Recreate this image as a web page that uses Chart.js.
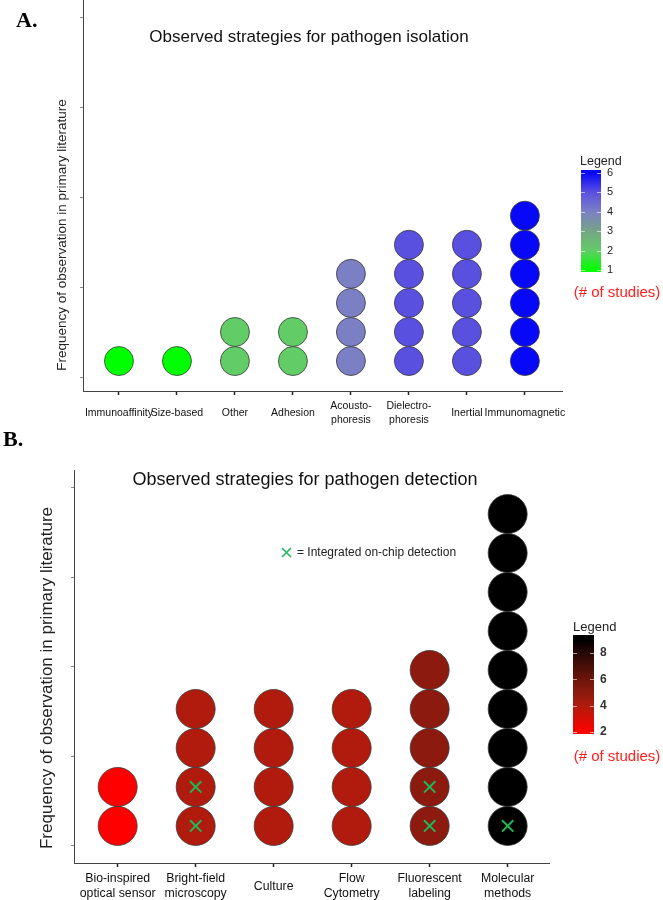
<!DOCTYPE html>
<html>
<head>
<meta charset="utf-8">
<script src="https://cdn.jsdelivr.net/npm/chart.js@4.4.0/dist/chart.umd.min.js"></script>
<style>
  body { margin: 0; background: #fff; width: 663px; height: 900px; overflow: hidden; }
  .panel { position: absolute; left: 0; width: 663px; }
</style>
</head>
<body>
<div class="panel" style="top:0;height:430px"><canvas id="chartA" width="663" height="430"></canvas></div>
<div class="panel" style="top:430px;height:470px"><canvas id="chartB" width="663" height="470"></canvas></div>
<script>
// Panel A: isolation strategies
const isolationMethods = [["Immunoaffinity"], ["Size-based"], ["Other"], ["Adhesion"],
  ["Acousto-", "phoresis"], ["Dielectro-", "phoresis"], ["Inertial"], ["Immunomagnetic"]];
const isolationCounts = [1, 1, 2, 2, 4, 5, 5, 6];
const legendTicksA = [1, 2, 3, 4, 5, 6];

// Panel B: detection strategies
const detectionMethods = [["Bio-inspired", "optical sensor"], ["Bright-field", "microscopy"], ["Culture"],
  ["Flow", "Cytometry"], ["Fluorescent", "labeling"], ["Molecular", "methods"]];
const detectionCounts = [2, 4, 4, 4, 5, 9];
const onChipCounts = [0, 2, 0, 0, 2, 1]; // dots marked "integrated on-chip detection"
const legendTicksB = [2, 4, 6, 8];

const FONT = "'Liberation Sans', Arial, sans-serif";

// colour scales (like the legends)
const scaleA = { min: 1, max: 6, stops: [[1, "#00ff00"], [2, "#62cc66"], [3, "#74a585"], [4, "#7b80c4"], [5, "#5a50e0"], [6, "#0808f8"]] };
const scaleB = { min: 2, max: 9, stops: [[2, "#ff0000"], [4, "#b11b0d"], [5, "#8c1a0e"], [6, "#6c150b"], [8, "#280705"], [9, "#000000"]] };

function hexRgb(h) {
  return [1, 3, 5].map(i => parseInt(h.slice(i, i + 2), 16));
}
function colorFor(scale, v) {
  const s = scale.stops;
  if (v <= s[0][0]) return s[0][1];
  for (let i = 1; i < s.length; i++) {
    if (v <= s[i][0]) {
      const t = (v - s[i - 1][0]) / (s[i][0] - s[i - 1][0]);
      const a = hexRgb(s[i - 1][1]), b = hexRgb(s[i][1]);
      const c = a.map((x, j) => Math.round(x + (b[j] - x) * t));
      return `rgb(${c[0]},${c[1]},${c[2]})`;
    }
  }
  return s[s.length - 1][1];
}

function dotPoints(counts) {
  const pts = [];
  counts.forEach((n, i) => { for (let k = 1; k <= n; k++) pts.push({ x: i, y: k, c: n }); });
  return pts;
}

function drawColorbar(ctx, scale, bar, ticks, labelFont, labelColor, labelX) {
  const yOf = v => bar.yMin - (v - scale.min) * (bar.yMin - bar.yMax) / (scale.max - scale.min);
  const g = ctx.createLinearGradient(0, yOf(scale.min), 0, yOf(scale.max));
  scale.stops.forEach(([v, c]) => g.addColorStop((v - scale.min) / (scale.max - scale.min), c));
  ctx.fillStyle = g;
  ctx.fillRect(bar.left, bar.top, bar.right - bar.left, bar.bottom - bar.top);
  ctx.strokeStyle = "rgba(255,255,255,0.6)";
  ctx.lineWidth = 1;
  ctx.font = labelFont;
  ctx.fillStyle = labelColor;
  ctx.textAlign = "left";
  ctx.textBaseline = "middle";
  ticks.forEach(v => {
    const y = Math.round(yOf(v)) + 0.5;
    ctx.beginPath();
    ctx.moveTo(bar.left, y); ctx.lineTo(bar.left + 4, y);
    ctx.moveTo(bar.right - 4, y); ctx.lineTo(bar.right, y);
    ctx.stroke();
    ctx.fillText(String(v), labelX, yOf(v));
  });
}

function text(ctx, str, x, y, font, color, align, rot) {
  ctx.save();
  ctx.translate(x, y);
  if (rot) ctx.rotate(rot);
  ctx.font = font;
  ctx.fillStyle = color;
  ctx.textAlign = align || "center";
  ctx.textBaseline = "middle";
  ctx.fillText(str, 0, 0);
  ctx.restore();
}

function axisOptions(cfg) {
  return {
    x: {
      type: "linear", min: cfg.xMin, max: cfg.xMax,
      afterBuildTicks: s => { s.ticks = cfg.labels.map((_, i) => ({ value: i })); },
      afterFit: s => { s.height = cfg.xHeight; },
      ticks: {
        callback: v => cfg.labels[v],
        font: { family: FONT, size: cfg.labelSize, lineHeight: cfg.lineHeight },
        color: "#111", padding: cfg.labelPad, crossAlign: "center", autoSkip: false, maxRotation: 0
      },
      grid: { drawOnChartArea: false, tickLength: 4, color: "#222", tickWidth: 1.5 },
      border: { color: "#444", width: 1 }
    },
    y: {
      type: "linear", min: cfg.yMin, max: cfg.yMax,
      afterBuildTicks: s => { s.ticks = cfg.yTicks.map(v => ({ value: v })); },
      afterFit: s => { s.width = cfg.yWidth; },
      ticks: { display: false },
      grid: { drawOnChartArea: false, tickLength: 3, color: "#888" },
      border: { color: "#444", width: 1 }
    }
  };
}

// ---------- Panel A ----------
new Chart(document.getElementById("chartA"), {
  type: "scatter",
  data: {
    datasets: [{
      data: dotPoints(isolationCounts),
      backgroundColor: c => colorFor(scaleA, c.raw.c),
      borderColor: "#3a3a3a", borderWidth: 0.8,
      pointRadius: 14.5, pointHoverRadius: 14.5, clip: false
    }]
  },
  options: {
    responsive: false, animation: false,
    layout: { autoPadding: false, padding: { left: 0, top: 0, right: 101, bottom: 0 } },
    plugins: { legend: { display: false }, tooltip: { enabled: false } },
    scales: axisOptions({
      labels: isolationMethods, xMin: -0.62, xMax: 7.64, xHeight: 39, labelSize: 10.5, lineHeight: 1.3, labelPad: 11,
      yMin: -0.03, yMax: 13.42, yTicks: [0.42, 3.52, 6.62, 9.72, 12.82], yWidth: 83
    })
  },
  plugins: [{
    id: "decorA",
    afterDraw(chart) {
      const ctx = chart.ctx;
      text(ctx, "A.", 16, 21, "bold 22px 'Liberation Serif', 'Times New Roman', serif", "#000", "left");
      text(ctx, "Observed strategies for pathogen isolation", 309, 37, `17px ${FONT}`, "#111");
      text(ctx, "Frequency of observation in primary literature", 62, 235, `13.5px ${FONT}`, "#222", "center", -Math.PI / 2);
      text(ctx, "Legend", 580, 162, `12.5px ${FONT}`, "#222", "left");
      drawColorbar(ctx, scaleA, { left: 581, right: 601, top: 170, bottom: 272, yMin: 270, yMax: 173 },
        legendTicksA, `11px ${FONT}`, "#222", 607);
      text(ctx, "(# of studies)", 617, 293, `15px ${FONT}`, "#ff2020");
    }
  }]
});

// ---------- Panel B ----------
const crossPts = [];
onChipCounts.forEach((n, i) => { for (let k = 1; k <= n; k++) crossPts.push({ x: i, y: k }); });

new Chart(document.getElementById("chartB"), {
  type: "scatter",
  data: {
    datasets: [{
      data: crossPts,
      pointStyle: "crossRot", pointRadius: 8, pointHoverRadius: 8,
      borderColor: "#1fb85a", borderWidth: 2, clip: false
    }, {
      data: dotPoints(detectionCounts),
      backgroundColor: c => colorFor(scaleB, c.raw.c),
      borderColor: "#3a3a3a", borderWidth: 0.8,
      pointRadius: 19.5, pointHoverRadius: 19.5, clip: false
    }]
  },
  options: {
    responsive: false, animation: false,
    layout: { autoPadding: false, padding: { left: 0, top: 40, right: 114, bottom: 0 } },
    plugins: { legend: { display: false }, tooltip: { enabled: false } },
    scales: axisOptions({
      labels: detectionMethods, xMin: -0.56, xMax: 5.53, xHeight: 37, labelSize: 12.3, lineHeight: 1.2, labelPad: 12,
      yMin: 0.05, yMax: 10.13, yTicks: [0.51, 2.77, 5.08, 7.38, 9.67], yWidth: 74
    })
  },
  plugins: [{
    id: "decorB",
    afterDraw(chart) {
      const ctx = chart.ctx;
      text(ctx, "B.", 3, 10, "bold 22px 'Liberation Serif', 'Times New Roman', serif", "#000", "left");
      text(ctx, "Observed strategies for pathogen detection", 305, 50, `18px ${FONT}`, "#111");
      text(ctx, "Frequency of observation in primary literature", 47, 248, `17px ${FONT}`, "#222", "center", -Math.PI / 2);
      // on-chip marker note
      ctx.save();
      ctx.strokeStyle = "#1fb85a"; ctx.lineWidth = 1.6;
      ctx.beginPath();
      ctx.moveTo(282, 118); ctx.lineTo(291, 127);
      ctx.moveTo(291, 118); ctx.lineTo(282, 127);
      ctx.stroke();
      ctx.restore();
      text(ctx, "= Integrated on-chip detection", 297, 123, `12px ${FONT}`, "#222", "left");
      text(ctx, "Legend", 573, 197, `13px ${FONT}`, "#222", "left");
      drawColorbar(ctx, scaleB, { left: 573, right: 594, top: 205, bottom: 304, yMin: 302, yMax: 210 },
        legendTicksB, `bold 12px ${FONT}`, "#333", 600);
      text(ctx, "(# of studies)", 617, 327, `15px ${FONT}`, "#ff2020");
    }
  }]
});
</script>
</body>
</html>
